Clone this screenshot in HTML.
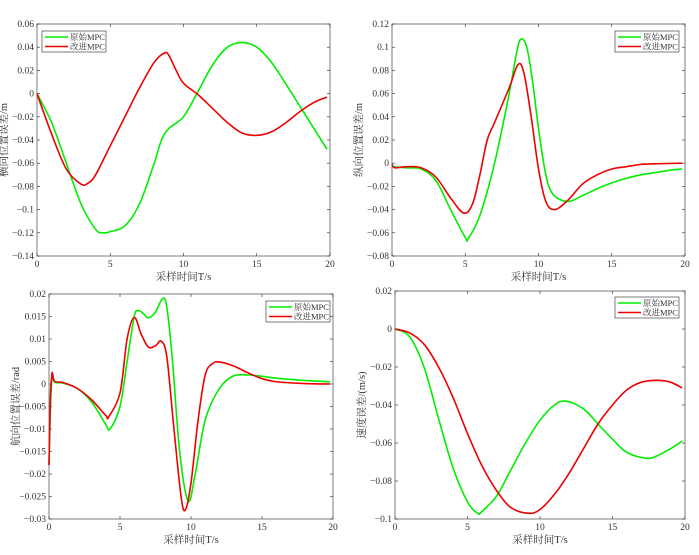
<!DOCTYPE html>
<html><head><meta charset="utf-8"><style>
body{margin:0;background:#fff;}
svg text{font-family:"Liberation Serif","Noto Serif CJK SC",serif;fill:#333;}
</style></head><body>
<svg id="fig" width="699" height="550" viewBox="0 0 699 550" xmlns="http://www.w3.org/2000/svg"></svg>
<script>
// ---- data ----
const c1T_g=[0,1,2,3,4,4.5,5,6,7,8,8.5,9,10,11,12,13,14,15,16,17,18,19,19.8];
const c1V_g=[0,-0.025,-0.06,-0.095,-0.117,-0.12,-0.119,-0.114,-0.095,-0.06,-0.04,-0.03,-0.02,0.002,0.025,0.04,0.044,0.04,0.027,0.008,-0.012,-0.032,-0.048];
const c1T_r=[0,1,2,3,3.5,4,5,6,7,8,8.7,9,9.5,10,11,12,13,14,15,16,17,18,19,19.8];
const c1V_r=[0,-0.035,-0.065,-0.078,-0.077,-0.07,-0.045,-0.02,0.005,0.027,0.035,0.033,0.02,0.009,-0.001,-0.013,-0.025,-0.034,-0.036,-0.033,-0.025,-0.015,-0.007,-0.003];
const c2T_g=[0,1,2,3,4,5,5.2,6,7,8,8.5,8.8,9.2,9.6,10,10.5,11,12,13,14,15,16,17,18,19,19.8];
const c2V_g=[-0.003,-0.004,-0.005,-0.015,-0.04,-0.064,-0.065,-0.045,0,0.06,0.095,0.107,0.1,0.07,0.03,-0.01,-0.027,-0.033,-0.028,-0.022,-0.017,-0.013,-0.01,-0.008,-0.006,-0.005];
const c2T_r=[0,0.2,1,2,3,4,4.9,5.5,6,6.5,7,8,8.6,9,9.5,10,10.5,11.1,12,13,14,15,16,17,18,19.8];
const c2V_r=[-0.001,-0.004,-0.003,-0.004,-0.012,-0.03,-0.043,-0.035,-0.01,0.02,0.035,0.065,0.085,0.078,0.04,-0.005,-0.033,-0.04,-0.032,-0.018,-0.01,-0.005,-0.003,-0.001,-0.0005,0];
const c3T_g=[0,0.1,0.2,0.25,0.4,1,2,3,4,4.3,5,5.5,6,6.3,6.7,7,7.5,8,8.3,8.7,9.2,9.8,10.3,11,12,13,14,15,16,18,19.8];
const c3V_g=[-0.018,-0.005,0.001,0.002,0.0004,0.0002,-0.001,-0.004,-0.009,-0.01,-0.005,0.005,0.015,0.0163,0.0155,0.0147,0.016,0.019,0.017,0.005,-0.015,-0.026,-0.02,-0.008,-0.001,0.0018,0.002,0.0017,0.0013,0.0008,0.0005];
const c3T_r=[0,0.1,0.2,0.25,0.4,1,2,3,4,4.2,5,5.5,6,6.5,7,7.5,7.9,8.3,8.8,9.3,9.6,10,10.5,11,11.5,12,13,14,15,16,18,19.8];
const c3V_r=[-0.018,-0.003,0.002,0.0023,0.0006,0.0003,-0.001,-0.0035,-0.007,-0.0073,-0.002,0.01,0.0148,0.011,0.0082,0.0085,0.0095,0.006,-0.01,-0.025,-0.028,-0.022,-0.008,0.002,0.0045,0.0049,0.004,0.0025,0.0012,0.0005,0.0001,0];
const c4T_g=[0,1,2,3,4,5,5.7,6,7,8,9,10,11,11.8,13,14,15,16,17.3,18,19,19.8];
const c4V_g=[0,-0.004,-0.02,-0.047,-0.073,-0.091,-0.097,-0.096,-0.088,-0.074,-0.06,-0.048,-0.04,-0.038,-0.042,-0.05,-0.058,-0.065,-0.068,-0.067,-0.063,-0.059];
const c4T_r=[0,1,2,3,4,5,6,7,8,9.2,10,11,12,13,14,15,16,17,18.1,19,19.8];
const c4V_r=[0,-0.002,-0.008,-0.02,-0.036,-0.055,-0.072,-0.085,-0.094,-0.097,-0.095,-0.087,-0.076,-0.063,-0.05,-0.04,-0.032,-0.028,-0.027,-0.028,-0.031];
const xTicks=[0,5,10,15,20];
const c1Y=[0.06,0.04,0.02,0,-0.02,-0.04,-0.06,-0.08,-0.1,-0.12,-0.14];
const c2Y=[0.12,0.1,0.08,0.06,0.04,0.02,0,-0.02,-0.04,-0.06,-0.08];
const c3Y=[0.02,0.015,0.01,0.005,0,-0.005,-0.01,-0.015,-0.02,-0.025,-0.03];
const c4Y=[0.02,0,-0.02,-0.04,-0.06,-0.08,-0.1];
const legendLabels=["原始MPC","改进MPC"];

const NS="http://www.w3.org/2000/svg";
const fig=document.getElementById('fig');
function mk(tag,attrs,parent){const e=document.createElementNS(NS,tag);for(const k in attrs)e.setAttribute(k,attrs[k]);(parent||fig).appendChild(e);return e;}
function fmt(v){return v===0?"0":String(+v.toFixed(3)).replace("-","−");}
function smooth(pts){let d="M"+pts[0][0]+","+pts[0][1];for(let i=0;i<pts.length-1;i++){const p0=pts[Math.max(0,i-1)],p1=pts[i],p2=pts[i+1],p3=pts[Math.min(pts.length-1,i+2)];const c1x=p1[0]+(p2[0]-p0[0])/6,c1y=p1[1]+(p2[1]-p0[1])/6,c2x=p2[0]-(p3[0]-p1[0])/6,c2y=p2[1]-(p3[1]-p1[1])/6;d+=" C"+c1x+","+c1y+" "+c2x+","+c2y+" "+p2[0]+","+p2[1];}return d;}
function chart(id,L,R,T,B,yTicks,series,ylabel,leg){
  const g=mk('g',{});
  
  
  const ymax=yTicks[0],ymin=yTicks[yTicks.length-1];
  const sx=t=>L+(t-0)/20*(R-L), sy=v=>T+(ymax-v)/(ymax-ymin)*(B-T);
  const box=mk('rect',{x:L,y:T,width:R-L,height:B-T,fill:'#fff',stroke:'#262626','stroke-width':0.6},g);
  
  
  xTicks.forEach(t=>{const x=sx(t);
    mk('line',{x1:x,x2:x,y1:B,y2:B-3,stroke:'#262626','stroke-width':0.6},g);
    mk('line',{x1:x,x2:x,y1:T,y2:T+3,stroke:'#262626','stroke-width':0.6},g);
    const tx=mk('text',{x:x,y:B+11,'font-size':9.5,'text-anchor':'middle'},g);tx.textContent=t;
    
    });
  yTicks.forEach(v=>{const y=sy(v);
    mk('line',{x1:L,x2:L+3,y1:y,y2:y,stroke:'#262626','stroke-width':0.6},g);
    mk('line',{x1:R,x2:R-3,y1:y,y2:y,stroke:'#262626','stroke-width':0.6},g);
    const tx=mk('text',{x:L-3,y:y+3,'font-size':9.5,'text-anchor':'end'},g);tx.textContent=fmt(v);
    
    });
  const colors=['#00ee00','#ee0000'];
  series.forEach((s,i)=>{const p=mk('path',{d:smooth(s[0].map((t,j)=>[sx(t),sy(s[1][j])])),fill:'none',stroke:colors[i],'stroke-width':1.6},g);
    
    });
  const xl=mk('text',{x:(L+R)/2,y:B+24,'font-size':10.5,'text-anchor':'middle'},g);xl.textContent="采样时间T/s";
  
  
  const yx=L-30,yy=(T+B)/2;
  const yl=mk('text',{x:yx,y:yy,'font-size':10.5,'text-anchor':'middle',transform:`rotate(-90 ${yx} ${yy})`},g);yl.textContent=ylabel;
  
  
  const lg=mk('g',{},g);
  
  
  mk('rect',{x:leg[0],y:leg[1],width:64,height:21,fill:'#fff',stroke:'#262626','stroke-width':0.6},lg);
  legendLabels.forEach((lab,i)=>{const y=leg[1]+6+i*9.5;
    mk('line',{x1:leg[0]+3,x2:leg[0]+26,y1:y,y2:y,stroke:colors[i],'stroke-width':1.6},lg);
    const tx=mk('text',{x:leg[0]+28,y:y+3,'font-size':8.5},lg);tx.textContent=lab;
    
    });
}
chart('lateral-error-chart',37,330,24,256,c1Y,[[c1T_g,c1V_g],[c1T_r,c1V_r]],"横向位置误差/m",[42,31]);
chart('longitudinal-error-chart',392,685,24,256,c2Y,[[c2T_g,c2V_g],[c2T_r,c2V_r]],"纵向位置误差/m",[615,31]);
chart('heading-error-chart',49,333,294,519,c3Y,[[c3T_g,c3V_g],[c3T_r,c3V_r]],"航向位置误差/rad",[266,301]);
chart('speed-error-chart',395,685,291,519,c4Y,[[c4T_g,c4V_g],[c4T_r,c4V_r]],"速度误差/(m/s)",[615,297]);
</script>
</body></html>
